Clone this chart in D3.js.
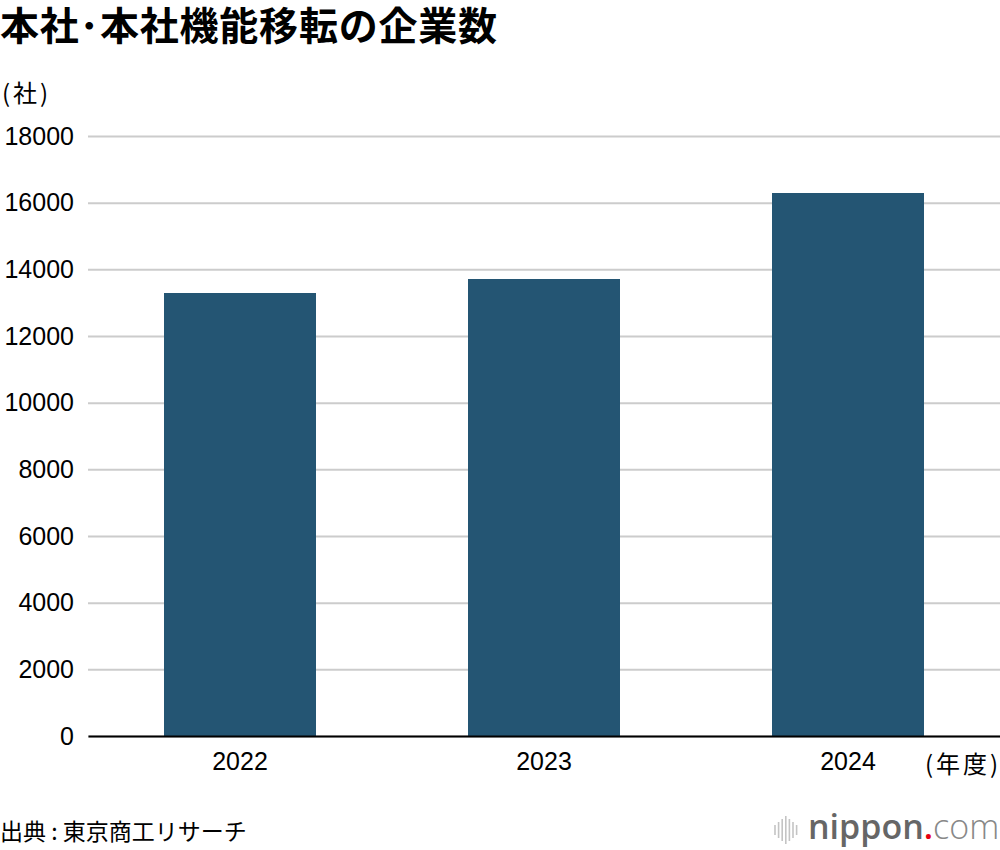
<!DOCTYPE html>
<html>
<head>
<meta charset="utf-8">
<script src="https://cdn.jsdelivr.net/npm/d3@7"></script>
<style>
  body { margin: 0; background: #fff; }
  svg { display: block; }
  .jp { font-family: "Noto Sans CJK JP", sans-serif; }
  .num { font-family: "Liberation Sans", Arial, sans-serif; }
</style>
</head>
<body>
<div id="chart"></div>
<script>
var years = ["2022", "2023", "2024"];
var companies = [13290, 13710, 16290];
var yTicks = [0, 2000, 4000, 6000, 8000, 10000, 12000, 14000, 16000, 18000];

var width = 1000;
var height = 850;
var left = 88;
var right = 1000;
var top0 = 136;
var bottom = 736;

var svg = d3
  .select("#chart")
  .append("svg")
  .attr("width", width)
  .attr("height", height);

var x = d3
  .scaleBand()
  .domain(years)
  .range([left, right])
  .paddingInner(0.5)
  .paddingOuter(0.25);

var y = d3
  .scaleLinear()
  .domain([0, 18000])
  .range([bottom, top0]);

// title, half-width middle dot like the original
svg
  .append("text")
  .attr("class", "jp")
  .attr("x", 0)
  .attr("y", 40)
  .attr("font-size", 39)
  .attr("font-weight", "bold")
  .attr("letter-spacing", 0.8)
  .text("本社･本社機能移転の企業数");

svg
  .append("text")
  .attr("class", "jp")
  .attr("x", 2)
  .attr("y", 102)
  .attr("font-size", 24)
  .attr("letter-spacing", 3)
  .text("(社)");

// y axis with gridlines
var yAxis = svg
  .append("g")
  .attr("transform", "translate(" + left + ",0)")
  .call(
    d3
      .axisLeft(y)
      .tickValues(yTicks)
      .tickSize(-(right - left))
      .tickPadding(14)
      .tickFormat(d3.format("d"))
  );
yAxis.select(".domain").remove();
yAxis
  .selectAll(".tick line")
  .attr("stroke", "#cccccc")
  .attr("stroke-width", 2);
yAxis
  .selectAll(".tick text")
  .attr("class", "num")
  .attr("font-size", 25)
  .attr("fill", "#000");

// bars
svg
  .selectAll(".bar")
  .data(companies)
  .enter()
  .append("rect")
  .attr("class", "bar")
  .attr("x", function(d, i) {
    return x(years[i]);
  })
  .attr("y", function(d) {
    return y(d);
  })
  .attr("width", x.bandwidth())
  .attr("height", function(d) {
    return bottom - y(d);
  })
  .attr("fill", "#245573");

// x axis
var xAxis = svg
  .append("g")
  .attr("transform", "translate(0," + bottom + ")")
  .call(d3.axisBottom(x).tickSize(0).tickPadding(16));
xAxis
  .select(".domain")
  .attr("stroke", "#000")
  .attr("stroke-width", 2);
xAxis
  .selectAll(".tick text")
  .attr("class", "num")
  .attr("font-size", 25)
  .attr("fill", "#000");

svg
  .append("text")
  .attr("class", "jp")
  .attr("x", 925)
  .attr("y", 773)
  .attr("font-size", 24)
  .attr("letter-spacing", 3)
  .text("(年度)");

// source
svg
  .append("text")
  .attr("class", "jp")
  .attr("x", 0)
  .attr("y", 840)
  .attr("font-size", 23)
  .text("出典 : 東京商工リサーチ");

// nippon.com logo
var logo = svg.append("g").attr("transform", "translate(773,815)");
var waveH = [10, 16, 22, 28, 22, 16, 10];
logo
  .selectAll("line")
  .data(waveH)
  .enter()
  .append("line")
  .attr("x1", function(d, i) {
    return 2 + i * 3.6;
  })
  .attr("x2", function(d, i) {
    return 2 + i * 3.6;
  })
  .attr("y1", function(d) {
    return 15 - d / 2;
  })
  .attr("y2", function(d) {
    return 15 + d / 2;
  })
  .attr("stroke", "#c4c4c4")
  .attr("stroke-width", 1.6);

var logoText = svg
  .append("text")
  .attr("x", 808)
  .attr("y", 839)
  .attr("font-family", "'Open Sans', sans-serif")
  .attr("font-size", 34);
logoText
  .append("tspan")
  .attr("font-weight", 600)
  .attr("fill", "#666666")
  .text("nippon");
logoText
  .append("tspan")
  .attr("font-weight", 600)
  .attr("fill", "#e60012")
  .text(".");
logoText
  .append("tspan")
  .attr("font-weight", 300)
  .attr("fill", "#888888")
  .text("com");
</script>
</body>
</html>
